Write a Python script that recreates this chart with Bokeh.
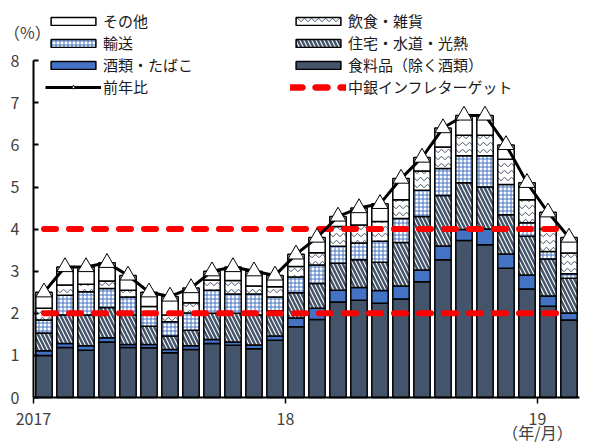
from bokeh.plotting import figure
from bokeh.models import ColumnDataSource, Range1d, FixedTicker, Legend, LegendItem, Label
from bokeh.embed import file_html
from bokeh.resources import INLINE

FONT = "Noto Sans CJK JP"

months = ["2017-01", "2017-02", "2017-03", "2017-04", "2017-05", "2017-06",
          "2017-07", "2017-08", "2017-09", "2017-10", "2017-11", "2017-12",
          "2018-01", "2018-02", "2018-03", "2018-04", "2018-05", "2018-06",
          "2018-07", "2018-08", "2018-09", "2018-10", "2018-11", "2018-12",
          "2019-01", "2019-02"]

food      = [1.00, 1.19, 1.12, 1.32, 1.19, 1.18, 1.06, 1.14, 1.28, 1.24, 1.16, 1.36, 1.68,
             1.85, 2.27, 2.31, 2.24, 2.34, 2.75, 3.27, 3.73, 3.63, 3.07, 2.58, 2.17, 1.84]
alcohol   = [0.11, 0.09, 0.11, 0.10, 0.07, 0.08, 0.08, 0.09, 0.10, 0.08, 0.09, 0.10, 0.21,
             0.27, 0.28, 0.30, 0.30, 0.31, 0.28, 0.33, 0.26, 0.37, 0.34, 0.33, 0.24, 0.17]
housing   = [0.42, 0.68, 0.73, 0.72, 0.70, 0.43, 0.32, 0.37, 0.62, 0.68, 0.71, 0.60, 0.60,
             0.59, 0.64, 0.66, 0.67, 1.03, 1.27, 1.20, 1.11, 1.00, 0.93, 0.92, 0.88, 0.82]
transport = [0.31, 0.47, 0.55, 0.45, 0.43, 0.27, 0.34, 0.41, 0.55, 0.46, 0.50, 0.33, 0.37,
             0.44, 0.40, 0.40, 0.50, 0.57, 0.62, 0.64, 0.64, 0.74, 0.72, 0.32, 0.18, 0.11]
dining    = [0.28, 0.24, 0.18, 0.18, 0.16, 0.20, 0.16, 0.24, 0.24, 0.32, 0.19, 0.24, 0.25,
             0.29, 0.47, 0.43, 0.47, 0.45, 0.46, 0.51, 0.49, 0.49, 0.60, 0.55, 0.53, 0.49]
other     = [0.38, 0.43, 0.41, 0.43, 0.35, 0.34, 0.44, 0.35, 0.21, 0.32, 0.35, 0.27, 0.29,
             0.36, 0.24, 0.40, 0.42, 0.50, 0.32, 0.45, 0.47, 0.47, 0.34, 0.40, 0.40, 0.37]
yoy       = [2.5, 3.1, 3.1, 3.2, 2.9, 2.5, 2.4, 2.6, 3.0, 3.1, 3.0, 2.9, 3.4,
             3.8, 4.3, 4.5, 4.6, 5.2, 5.7, 6.4, 6.7, 6.7, 6.0, 5.1, 4.4, 3.8]
target_band = [2.0, 4.0]

y_ticks = [0, 1, 2, 3, 4, 5, 6, 7, 8]
x_tick_labels = {0: "2017", 12: "18", 24: "19\n（年/月）"}

series_names = ["食料品（除く酒類）", "酒類・たばこ", "住宅・水道・光熱", "輸送", "飲食・雑貨", "その他"]
keys = ["food", "alcohol", "housing", "transport", "dining", "other"]

n = len(months)
x = [i + 0.5 for i in range(n)]
src = ColumnDataSource(dict(x=x, month=months, food=food, alcohol=alcohol, housing=housing,
                            transport=transport, dining=dining, other=other, yoy=yoy,
                            lo=[target_band[0]] * n, hi=[target_band[1]] * n))

# pixel layout: frame fills the canvas; axes are pinned at data 0
PX_X = 21.0      # px per month
PX_Y = 42.1      # px per percentage point
X0_PX, Y0_PX = 33, 397
W, H = 593, 445

p = figure(width=W, height=H,
           x_range=Range1d(-X0_PX / PX_X, (W - X0_PX) / PX_X),
           y_range=Range1d(-(H - Y0_PX) / PX_Y, Y0_PX / PX_Y),
           output_backend="svg", toolbar_location=None,
           min_border_left=0, min_border_right=0, min_border_top=0, min_border_bottom=0)
p.outline_line_color = None
p.xgrid.visible = False
p.ygrid.visible = False
p.background_fill_color = "white"

SLATE = "#44546A"
BLUE = "#4472C4"

bars = p.vbar_stack(keys, x="x", width=0.78, source=src,
                    fill_color=[SLATE, BLUE, "white", "white", "white", "white"],
                    hatch_pattern=[None, None, "left_diagonal_line", "cross", "horizontal_wave", None],
                    hatch_color=[SLATE, SLATE, SLATE, BLUE, SLATE, SLATE],
                    hatch_weight=[1, 1, 2.5, 1, 1, 1],
                    hatch_scale=[8, 8, 8, 4, 7, 8],
                    line_color="black", line_width=1.5)
r_food, r_alc, r_house, r_trans, r_dine, r_other = bars

r_lo = p.line("x", "lo", source=src, line_color="#FF0000", line_width=6,
              line_dash="12 13", line_cap="round")
r_hi = p.line("x", "hi", source=src, line_color="#FF0000", line_width=6,
              line_dash="12 13", line_cap="round")

r_line = p.line("x", "yoy", source=src, line_color="black", line_width=3)
r_mark = p.scatter("x", "yoy", source=src, marker="triangle", size=16,
                   fill_color="white", line_color="black", line_width=1)

# axes
yax = p.yaxis[0]
yax.fixed_location = 0
yax.bounds = (0, 8)
yax.ticker = FixedTicker(ticks=y_ticks)
yax.minor_tick_line_color = None
yax.major_tick_in = 5
yax.major_tick_out = 0
yax.axis_line_width = 2
yax.major_tick_line_width = 2
yax.major_label_standoff = 14
yax.major_label_text_font = FONT
yax.major_label_text_font_size = "16px"
yax.major_label_text_color = "#404040"

xax = p.xaxis[0]
xax.fixed_location = 0
xax.bounds = (0, n)
xax.ticker = FixedTicker(ticks=list(x_tick_labels.keys()))
xax.major_label_overrides = x_tick_labels
xax.minor_tick_line_color = None
xax.major_tick_in = 0
xax.major_tick_out = 6
xax.axis_line_width = 2
xax.major_tick_line_width = 1.5
xax.major_label_standoff = 2
xax.major_label_text_font = FONT
xax.major_label_text_font_size = "16px"
xax.major_label_text_color = "#404040"
xax.major_label_text_line_height = 0.62

p.add_layout(Label(x=-0.29, y=8.69, text="（%）", text_font=FONT, text_font_size="16px",
                   text_color="#404040", text_align="center", text_baseline="middle"))

def make_legend(items, vx, vy):
    leg = Legend(items=items, location=(vx, vy), orientation="vertical",
                 glyph_width=56, glyph_height=10, label_height=18, spacing=1,
                 padding=0, margin=0, label_standoff=2,
                 label_text_font=FONT, label_text_font_size="15px", label_text_color="#1a1a1a",
                 border_line_color=None, background_fill_alpha=0)
    p.add_layout(leg)

make_legend([LegendItem(label=series_names[5], renderers=[r_other]),
             LegendItem(label=series_names[3], renderers=[r_trans]),
             LegendItem(label=series_names[1], renderers=[r_alc]),
             LegendItem(label="前年比", renderers=[r_line, r_mark])], 45, 348)
make_legend([LegendItem(label=series_names[4], renderers=[r_dine]),
             LegendItem(label=series_names[2], renderers=[r_house]),
             LegendItem(label=series_names[0], renderers=[r_food]),
             LegendItem(label="中銀インフレターゲット", renderers=[r_lo, r_hi])], 290, 348)

open("out.html", "w").write(file_html(p, INLINE))
